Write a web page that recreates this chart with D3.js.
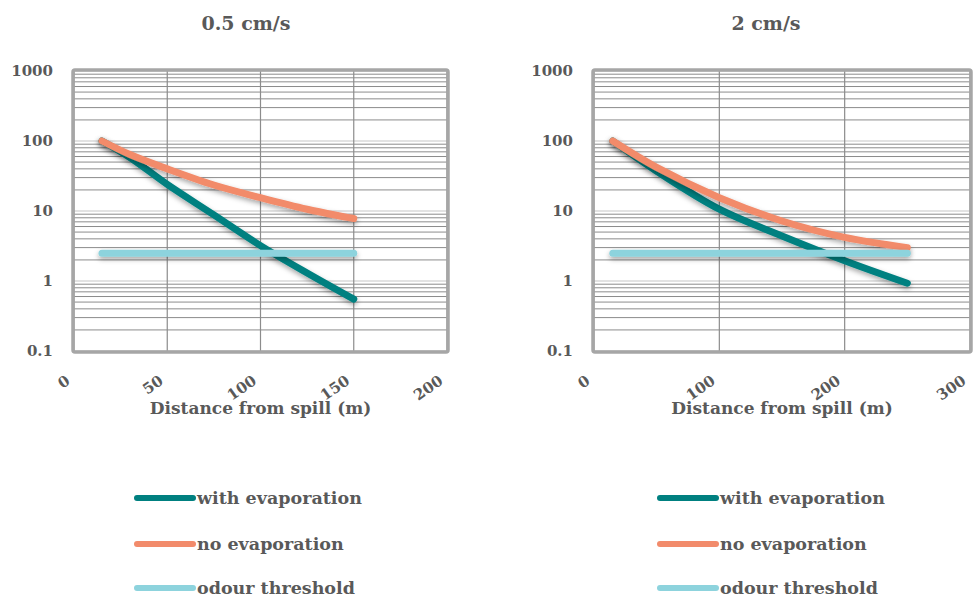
<!DOCTYPE html>
<html><head><meta charset="utf-8">
<script src="https://cdn.jsdelivr.net/npm/d3@7"></script>
<style>
body{margin:0;background:#fff;}
text{font-family:"DejaVu Serif","Liberation Serif",serif;font-weight:bold;fill:#595959;}
</style></head>
<body>
<svg id="c" width="978" height="598"></svg>
<script>
// ---- data ----
const titles = ["0.5 cm/s", "2 cm/s"];
const xTitle = "Distance from spill (m)";
const seriesNames = ["with evaporation", "no evaporation", "odour threshold"];
const seriesColors = ["#008080", "#f28b6b", "#8dd3dd"];
const yTicks = [0.1, 1, 10, 100, 1000];
const yTickLabels = ["0.1", "1", "10", "100", "1000"];

// chart 1: 0.5 cm/s
const xTicks1 = [0, 50, 100, 150, 200];
const dist1 = [15, 30, 50, 75, 100, 125, 150];
const withEvap1 = [100, 58, 24, 8.8, 3.2, 1.3, 0.55];
const noEvap1 = [100, 64, 40, 23.5, 15.5, 10.6, 7.8];
const threshold1 = [2.5, 2.5, 2.5, 2.5, 2.5, 2.5, 2.5];

// chart 2: 2 cm/s
const xTicks2 = [0, 100, 200, 300];
const dist2 = [15, 50, 100, 150, 200, 250];
const withEvap2 = [100, 37, 10.6, 4.4, 1.95, 0.93];
const noEvap2 = [100, 42, 15.5, 7.2, 4.2, 3.0];
const threshold2 = [2.5, 2.5, 2.5, 2.5, 2.5, 2.5];

const charts = [
  {title: titles[0], xTicks: xTicks1, xMax: 200, dist: dist1, series: [withEvap1, noEvap1, threshold1],
   left: 74, right: 447, titleX: 246, legendX: 137},
  {title: titles[1], xTicks: xTicks2, xMax: 300, dist: dist2, series: [withEvap2, noEvap2, threshold2],
   left: 594, right: 970, titleX: 766, legendX: 660}
];

const svg = d3.select("#c");
const defs = svg.append("defs");
const f = defs.append("filter").attr("id","sh").attr("filterUnits","userSpaceOnUse")
  .attr("x",0).attr("y",0).attr("width",978).attr("height",598);
f.append("feDropShadow").attr("dx",0).attr("dy",2.5).attr("stdDeviation",2.5).attr("flood-color","#000").attr("flood-opacity",0.35);

const plotTop = 71, plotBottom = 351;

charts.forEach(c => {
  const g = svg.append("g");
  const x = d3.scaleLinear().domain([0, c.xMax]).range([c.left, c.right]);
  const y = d3.scaleLog().domain([0.1, 1000]).range([plotBottom, plotTop]);

  g.append("text").attr("x", c.titleX).attr("y", 30).attr("text-anchor","middle")
    .style("font-size","19px").text(c.title);

  const minor = [];
  for (let d = 0.1; d < 1000; d *= 10) {
    for (let k = 2; k <= 9; k++) minor.push(+(d * k).toPrecision(3));
  }
  g.selectAll(".mn").data(minor).join("line")
    .attr("x1", c.left).attr("x2", c.right)
    .attr("y1", d => y(d)).attr("y2", d => y(d))
    .attr("stroke", "#8c8c8c").attr("stroke-width", 1);
  g.selectAll(".mj").data(yTicks).join("line")
    .attr("x1", c.left).attr("x2", c.right)
    .attr("y1", d => y(d)).attr("y2", d => y(d))
    .attr("stroke", "#d9d9d9").attr("stroke-width", 1.5);
  g.selectAll(".vg").data(c.xTicks).join("line")
    .attr("x1", d => x(d)).attr("x2", d => x(d))
    .attr("y1", plotTop).attr("y2", plotBottom)
    .attr("stroke", "#8c8c8c").attr("stroke-width", 1.2);
  g.append("rect").attr("x", c.left - 1).attr("y", plotTop - 1)
    .attr("width", c.right - c.left + 2).attr("height", plotBottom - plotTop + 2)
    .attr("rx", 2).attr("fill", "none").attr("stroke", "#a6a6a6").attr("stroke-width", 3.5);

  g.selectAll(".yl").data(yTicks).join("text")
    .attr("x", c.left - 21).attr("y", d => y(d) + 5)
    .attr("text-anchor", "end").style("font-size", "15px")
    .text((d, i) => yTickLabels[i]);

  g.selectAll(".xl").data(c.xTicks).join("text")
    .attr("text-anchor", "end").style("font-size", "15px")
    .attr("transform", d => `translate(${x(d) - 3},${383}) rotate(-35)`)
    .text(d => d);

  g.append("text").attr("x", (c.left + c.right) / 2).attr("y", 414).attr("text-anchor","middle")
    .style("font-size","17px").text(xTitle);

  const line = d3.line().curve(d3.curveCatmullRom.alpha(0.5)).x((d, i) => x(c.dist[i])).y(d => y(d));
  [0, 1, 2].forEach(si => {
    g.append("path").datum(c.series[si])
      .attr("d", line).attr("fill", "none")
      .attr("stroke", seriesColors[si]).attr("stroke-width", 7)
      .attr("stroke-linecap", "round").attr("stroke-linejoin", "round")
      .attr("filter", "url(#sh)");
  });

  const ly = [498, 544, 588];
  seriesNames.forEach((n, i) => {
    g.append("line").attr("x1", c.legendX).attr("x2", c.legendX + 56)
      .attr("y1", ly[i]).attr("y2", ly[i])
      .attr("stroke", seriesColors[i]).attr("stroke-width", 6).attr("stroke-linecap", "round");
    g.append("text").attr("x", c.legendX + 60).attr("y", ly[i] + 6)
      .style("font-size", "17.5px").text(n);
  });
});
</script>
</body></html>
